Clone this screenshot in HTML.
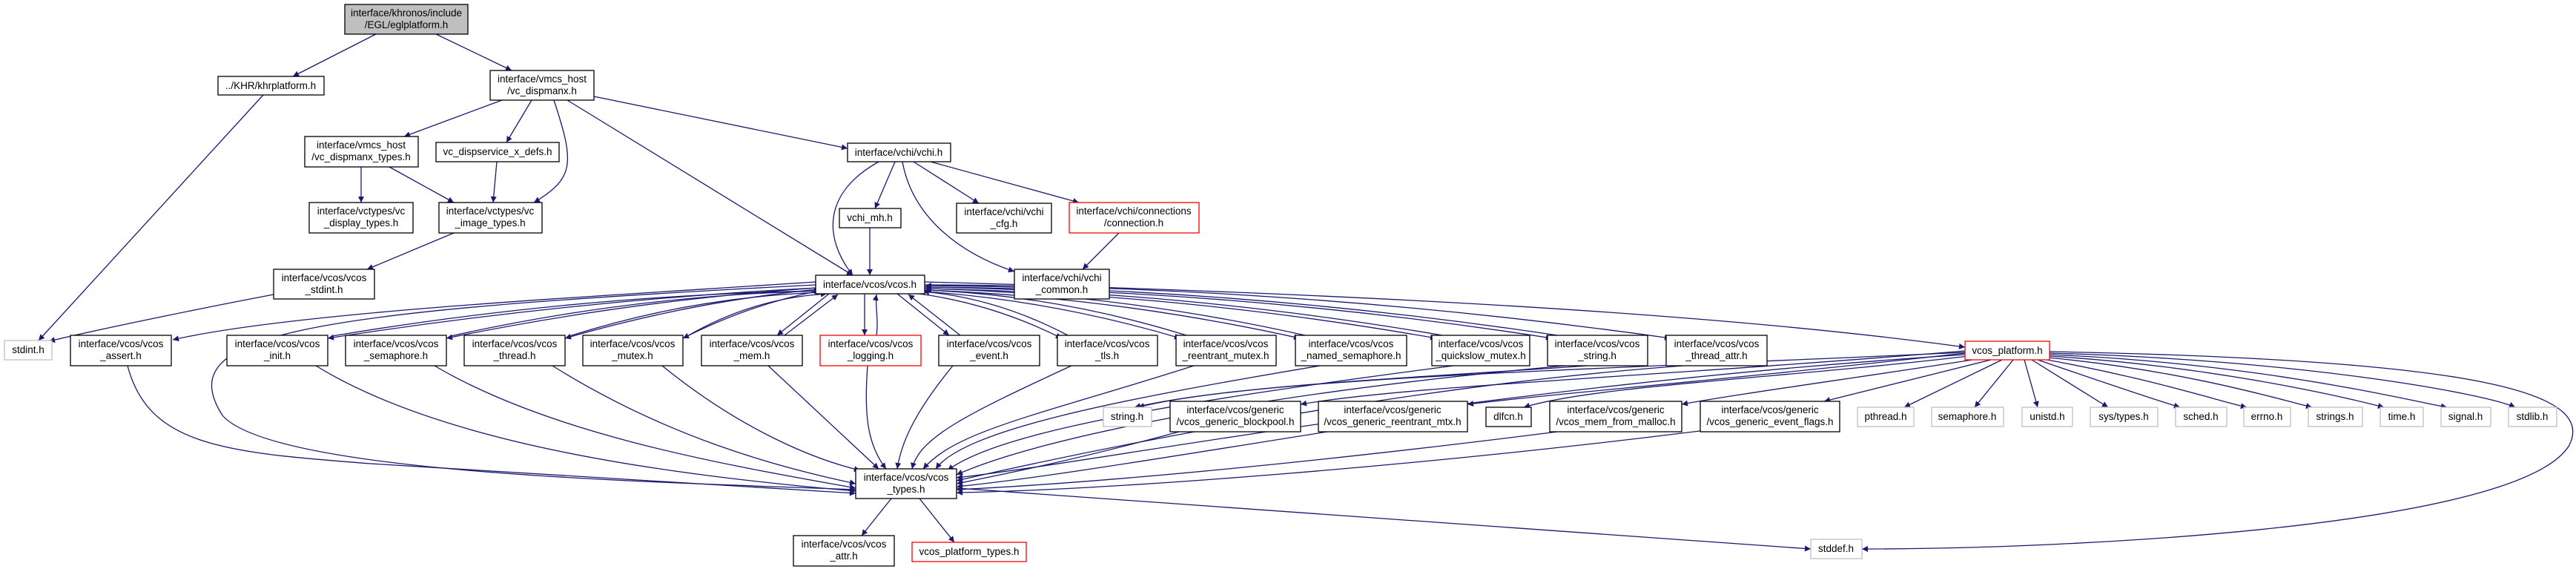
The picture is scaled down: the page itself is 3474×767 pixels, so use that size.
<!DOCTYPE html>
<html><head><meta charset="utf-8"><style>
html,body{margin:0;padding:0;background:#fff;}
svg{display:block;}
text{font-family:"Liberation Sans",Arial,sans-serif;font-size:13.5px;fill:#000;text-anchor:middle;}
.n{fill:#fff;stroke:#000;stroke-width:1.3;}
.g{fill:#fff;stroke:#bfbfbf;stroke-width:1.3;}
.r{fill:#fff;stroke:#ff0000;stroke-width:1.3;}
path.e{fill:none;stroke:#191970;stroke-width:1.3;marker-end:url(#a);}
</style></head><body>
<svg width="3474" height="767" viewBox="0 0 3474 767" xmlns="http://www.w3.org/2000/svg">
<defs><marker id="a" viewBox="0 0 10 10" refX="10" refY="5" markerWidth="11" markerHeight="8" markerUnits="userSpaceOnUse" orient="auto"><path d="M0,0L10,5L0,10z" fill="#191970"/></marker></defs>
<g>
<path class="e" d="M507 46 L395 103"/>
<path class="e" d="M588 46 L690 95"/>
<path class="e" d="M355 128 L52 459"/>
<path class="e" d="M677 135 L545 184"/>
<path class="e" d="M717 135 L683 192"/>
<path class="e" d="M747 135 C775 220,775 240,720 273"/>
<path class="e" d="M765 135 L1150 371"/>
<path class="e" d="M801 130 L1143 200"/>
<path class="e" d="M487 225 L487 273"/>
<path class="e" d="M525 225 L612 273"/>
<path class="e" d="M670 218 L665 273"/>
<path class="e" d="M612 314 L495 363"/>
<path class="e" d="M369 397 C300 410,150 440,66 460"/>
<path class="e" d="M1185 218 C1110 260,1110 320,1150 371"/>
<path class="e" d="M1207 218 L1180 281"/>
<path class="e" d="M1232 218 L1320 274"/>
<path class="e" d="M1255 218 L1455 273"/>
<path class="e" d="M1217 218 C1230 290,1290 340,1368 366"/>
<path class="e" d="M1173 307 L1173 371"/>
<path class="e" d="M1509 314 L1460 363"/>
<!-- vcos.h to row -->
<path class="e" d="M1100 380 C800 400,400 420,233 458"/>
<path class="e" d="M1102 388 Q771 405 442 456"/><path class="e" d="M448 453 Q775 398 1106 392"/>
<path class="e" d="M1102 388 Q851 405 602 456"/><path class="e" d="M608 453 Q855 398 1108 392"/>
<path class="e" d="M1102 390 Q931 407 762 456"/><path class="e" d="M768 453 Q935 400 1110 394"/>
<path class="e" d="M1105 392 Q1012 410 921 456"/><path class="e" d="M927 453 Q1015 402 1115 396"/>
<path class="e" d="M1118 396 L1048 452"/><path class="e" d="M1058 452 L1130 397"/>
<path class="e" d="M1166 396 L1166 452"/><path class="e" d="M1182 452 C1185 430,1180 410,1182 397"/>
<path class="e" d="M1210 396 L1280 452"/><path class="e" d="M1295 452 L1225 397"/>
<path class="e" d="M1240 396 Q1340 410 1432 456"/><path class="e" d="M1440 452 Q1345 402 1245 393"/>
<path class="e" d="M1247 393 Q1420 405 1592 456"/><path class="e" d="M1600 452 Q1425 398 1248 391"/>
<path class="e" d="M1247 391 Q1500 400 1753 456"/><path class="e" d="M1760 452 Q1505 395 1248 389"/>
<path class="e" d="M1247 389 Q1590 395 1937 456"/><path class="e" d="M1945 452 Q1595 392 1248 387"/>
<path class="e" d="M1247 387 Q1670 390 2093 456"/><path class="e" d="M2100 452 Q1675 388 1248 385"/>
<path class="e" d="M1247 384 Q1750 385 2253 456"/>
<path class="e" d="M1247 380 C1800 395,2300 420,2650 468"/>
<path class="e" d="M1100 384 C400 420,230 450,300 560 C370 640,900 650,1154 660"/>
<!-- row to vcos_types -->
<path class="e" d="M172 493 C200 600,300 610,500 625 C800 645,1000 655,1154 665"/>
<path class="e" d="M426 493 C600 600,900 640,1154 662"/>
<path class="e" d="M586 493 C750 590,1000 630,1154 658"/>
<path class="e" d="M745 493 C900 590,1050 630,1154 652"/>
<path class="e" d="M893 493 C1000 580,1100 620,1160 634"/>
<path class="e" d="M1036 493 L1185 632"/>
<path class="e" d="M1170 493 C1165 560,1170 600,1195 632"/>
<path class="e" d="M1285 493 C1230 560,1215 600,1210 632"/>
<path class="e" d="M1445 493 C1300 560,1240 590,1230 632"/>
<path class="e" d="M1610 493 C1400 560,1290 580,1245 632"/>
<path class="e" d="M1780 493 C1500 540,1300 580,1262 632"/>
<path class="e" d="M1960 493 C1600 540,1350 580,1278 634"/>
<path class="e" d="M2110 493 C1700 530,1400 590,1290 640"/>
<path class="e" d="M2270 493 C1900 520,1500 600,1290 648"/>
<path class="e" d="M1590 582 C1450 620,1350 640,1290 652"/>
<path class="e" d="M1790 582 C1550 620,1400 645,1290 656"/>
<path class="e" d="M2100 582 C1800 620,1500 650,1290 660"/>
<path class="e" d="M2300 580 C1900 630,1500 660,1290 664"/>
<path class="e" d="M2650 478 C2000 520,1500 620,1290 644"/>
<!-- platform fan -->
<path class="e" d="M2650 475 C2100 500,1700 510,1530 549"/>
<path class="e" d="M2140 493 C1900 510,1650 520,1535 549"/>
<path class="e" d="M2650 473 C2200 510,1900 520,1754 545"/>
<path class="e" d="M2650 476 C2300 515,2100 530,1979 545"/>
<path class="e" d="M2655 480 C2400 510,2150 520,2055 549"/>
<path class="e" d="M2660 485 C2500 510,2350 530,2268 545"/>
<path class="e" d="M2685 485 L2460 541"/>
<path class="e" d="M2700 485 L2568 549"/>
<path class="e" d="M2715 485 L2663 549"/>
<path class="e" d="M2730 485 L2748 549"/>
<path class="e" d="M2740 485 L2843 549"/>
<path class="e" d="M2748 485 C2850 520,2910 540,2940 549"/>
<path class="e" d="M2755 484 C2900 510,2990 540,3030 549"/>
<path class="e" d="M2762 482 C2950 500,3080 540,3118 549"/>
<path class="e" d="M2764 480 C3000 495,3180 540,3215 549"/>
<path class="e" d="M2764 478 C3050 490,3250 540,3300 549"/>
<path class="e" d="M2764 476 C3100 485,3350 530,3392 549"/>
<path class="e" d="M2764 474 C3350 485,3500 530,3465 600 C3400 710,2800 740,2511 740"/>
<path class="e" d="M1202 672 L1162 722"/>
<path class="e" d="M1240 672 L1287 731"/>
<path class="e" d="M1290 658 L2442 740"/>
</g>
<!-- nodes -->
<rect x="465" y="6" width="166" height="40" fill="#bfbfbf" stroke="#000" stroke-width="1.3"/><text x="548" y="22">interface/khronos/include</text><text x="548" y="38">/EGL/eglplatform.h</text>
<rect class="n" x="294" y="103" width="143" height="25"/><text x="365" y="120">../KHR/khrplatform.h</text>
<rect class="n" x="661" y="95" width="140" height="40"/><text x="731" y="111">interface/vmcs_host</text><text x="731" y="127">/vc_dispmanx.h</text>
<rect class="n" x="411" y="184" width="153" height="41"/><text x="487" y="200">interface/vmcs_host</text><text x="487" y="216">/vc_dispmanx_types.h</text>
<rect class="n" x="588" y="192" width="166" height="26"/><text x="671" y="209">vc_dispservice_x_defs.h</text>
<rect class="n" x="417" y="273" width="140" height="41"/><text x="487" y="289">interface/vctypes/vc</text><text x="487" y="305">_display_types.h</text>
<rect class="n" x="592" y="273" width="139" height="41"/><text x="661" y="289">interface/vctypes/vc</text><text x="661" y="305">_image_types.h</text>
<rect class="n" x="369" y="363" width="136" height="40"/><text x="437" y="379">interface/vcos/vcos</text><text x="437" y="395">_stdint.h</text>
<rect class="n" x="1143" y="193" width="139" height="25"/><text x="1212" y="210">interface/vchi/vchi.h</text>
<rect class="n" x="1132" y="281" width="83" height="26"/><text x="1173" y="298">vchi_mh.h</text>
<rect class="n" x="1290" y="274" width="128" height="40"/><text x="1354" y="290">interface/vchi/vchi</text><text x="1354" y="306">_cfg.h</text>
<rect class="r" x="1442" y="273" width="175" height="41"/><text x="1529" y="289">interface/vchi/connections</text><text x="1529" y="305">/connection.h</text>
<rect class="n" x="1368" y="363" width="128" height="40"/><text x="1432" y="379">interface/vchi/vchi</text><text x="1432" y="395">_common.h</text>
<rect class="n" x="1100" y="371" width="147" height="25"/><text x="1173" y="388">interface/vcos/vcos.h</text>
<rect class="g" x="6" y="459" width="64" height="26"/><text x="38" y="476">stdint.h</text>
<rect class="n" x="95" y="452" width="136" height="41"/><text x="163" y="468">interface/vcos/vcos</text><text x="163" y="484">_assert.h</text>
<rect class="n" x="306" y="452" width="136" height="41"/><text x="374" y="468">interface/vcos/vcos</text><text x="374" y="484">_init.h</text>
<rect class="n" x="466" y="452" width="136" height="41"/><text x="534" y="468">interface/vcos/vcos</text><text x="534" y="484">_semaphore.h</text>
<rect class="n" x="626" y="452" width="136" height="41"/><text x="694" y="468">interface/vcos/vcos</text><text x="694" y="484">_thread.h</text>
<rect class="n" x="786" y="452" width="135" height="41"/><text x="853" y="468">interface/vcos/vcos</text><text x="853" y="484">_mutex.h</text>
<rect class="n" x="946" y="452" width="136" height="41"/><text x="1014" y="468">interface/vcos/vcos</text><text x="1014" y="484">_mem.h</text>
<rect class="r" x="1106" y="452" width="136" height="41"/><text x="1174" y="468">interface/vcos/vcos</text><text x="1174" y="484">_logging.h</text>
<rect class="n" x="1266" y="452" width="136" height="41"/><text x="1334" y="468">interface/vcos/vcos</text><text x="1334" y="484">_event.h</text>
<rect class="n" x="1426" y="452" width="135" height="41"/><text x="1493" y="468">interface/vcos/vcos</text><text x="1493" y="484">_tls.h</text>
<rect class="n" x="1586" y="452" width="135" height="41"/><text x="1653" y="468">interface/vcos/vcos</text><text x="1653" y="484">_reentrant_mutex.h</text>
<rect class="n" x="1747" y="452" width="150" height="41"/><text x="1822" y="468">interface/vcos/vcos</text><text x="1822" y="484">_named_semaphore.h</text>
<rect class="n" x="1931" y="452" width="132" height="41"/><text x="1997" y="468">interface/vcos/vcos</text><text x="1997" y="484">_quickslow_mutex.h</text>
<rect class="n" x="2087" y="452" width="135" height="41"/><text x="2154" y="468">interface/vcos/vcos</text><text x="2154" y="484">_string.h</text>
<rect class="n" x="2247" y="452" width="136" height="41"/><text x="2315" y="468">interface/vcos/vcos</text><text x="2315" y="484">_thread_attr.h</text>
<rect class="r" x="2650" y="460" width="114" height="25"/><text x="2707" y="477">vcos_platform.h</text>
<rect class="g" x="1488" y="549" width="65" height="26"/><text x="1520" y="566">string.h</text>
<rect class="n" x="1578" y="541" width="176" height="41"/><text x="1666" y="557">interface/vcos/generic</text><text x="1666" y="573">/vcos_generic_blockpool.h</text>
<rect class="n" x="1778" y="541" width="201" height="41"/><text x="1878" y="557">interface/vcos/generic</text><text x="1878" y="573">/vcos_generic_reentrant_mtx.h</text>
<rect class="n" x="2004" y="549" width="61" height="26"/><text x="2034" y="566">dlfcn.h</text>
<rect class="n" x="2090" y="541" width="178" height="41"/><text x="2179" y="557">interface/vcos/generic</text><text x="2179" y="573">/vcos_mem_from_malloc.h</text>
<rect class="n" x="2293" y="541" width="188" height="41"/><text x="2387" y="557">interface/vcos/generic</text><text x="2387" y="573">/vcos_generic_event_flags.h</text>
<rect class="g" x="2505" y="549" width="76" height="26"/><text x="2543" y="566">pthread.h</text>
<rect class="g" x="2605" y="549" width="97" height="26"/><text x="2653" y="566">semaphore.h</text>
<rect class="g" x="2727" y="549" width="68" height="26"/><text x="2761" y="566">unistd.h</text>
<rect class="g" x="2819" y="549" width="91" height="26"/><text x="2864" y="566">sys/types.h</text>
<rect class="g" x="2934" y="549" width="69" height="26"/><text x="2968" y="566">sched.h</text>
<rect class="g" x="3026" y="549" width="63" height="26"/><text x="3057" y="566">errno.h</text>
<rect class="g" x="3113" y="549" width="73" height="26"/><text x="3149" y="566">strings.h</text>
<rect class="g" x="3210" y="549" width="58" height="26"/><text x="3239" y="566">time.h</text>
<rect class="g" x="3292" y="549" width="67" height="26"/><text x="3325" y="566">signal.h</text>
<rect class="g" x="3383" y="549" width="65" height="26"/><text x="3415" y="566">stdlib.h</text>
<rect class="n" x="1154" y="632" width="136" height="40"/><text x="1222" y="648">interface/vcos/vcos</text><text x="1222" y="664">_types.h</text>
<rect class="n" x="1070" y="722" width="136" height="41"/><text x="1138" y="738">interface/vcos/vcos</text><text x="1138" y="754">_attr.h</text>
<rect class="r" x="1230" y="731" width="154" height="26"/><text x="1307" y="748">vcos_platform_types.h</text>
<rect class="g" x="2442" y="727" width="69" height="26"/><text x="2476" y="744">stddef.h</text>
</svg>
</body></html>
